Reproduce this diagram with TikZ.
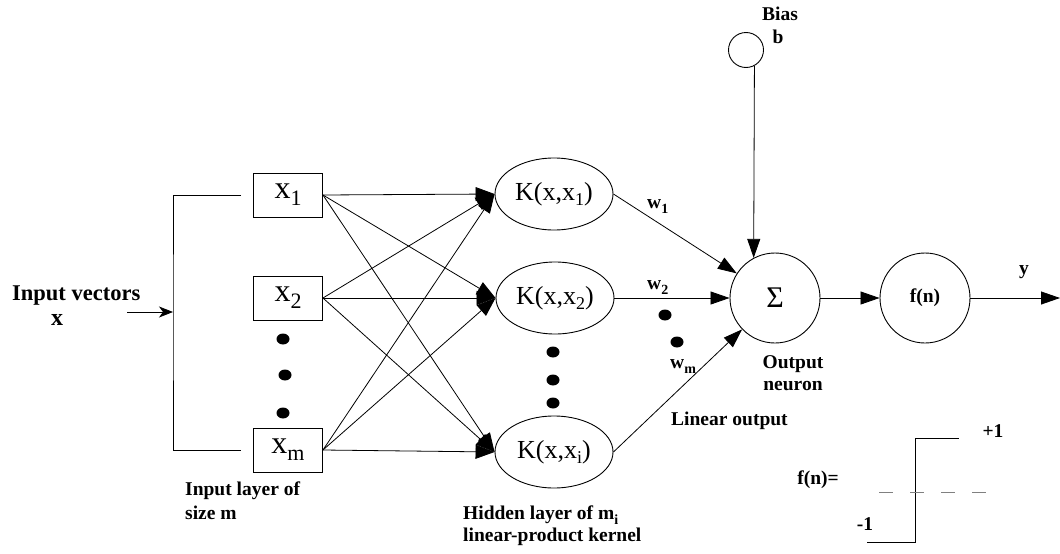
\documentclass[tikz,border=0pt]{standalone}
\usepackage{fontspec}
\setmainfont{Liberation Serif}
\usetikzlibrary{arrows.meta,shapes.geometric}

% lowered indices for the node labels
\newcommand\boxidx[1]{\raisebox{-0.22em}{\fontsize{22}{22}\selectfont #1}}
\newcommand\kidx[1]{\raisebox{-0.22em}{\fontsize{18}{18}\selectfont #1}}
\newcommand\bidx[1]{\raisebox{-0.28em}{\fontsize{14}{14}\selectfont #1}}

\begin{document}
\begin{tikzpicture}[x=1pt,y=-1pt,
  lbl/.style={font=\fontsize{19.5}{22}\selectfont\bfseries, inner sep=0pt},
  inbox/.style={draw, line width=0.9pt, minimum width=69pt, minimum height=44pt,
    inner sep=0pt, font=\fontsize{32}{34}\selectfont},
  kern/.style={draw, ellipse, line width=0.9pt, minimum width=118pt,
    minimum height=72pt, inner sep=0pt, font=\fontsize{26}{28}\selectfont},
  neuron/.style={draw, circle, line width=0.9pt, minimum size=90pt, inner sep=0pt},
  blob/.style={fill, ellipse, minimum width=13pt, minimum height=11pt, inner sep=0pt},
  wire/.style={line width=0.8pt},
  fan/.style={wire, -{Triangle[length=19pt,width=14pt]}},
  feed/.style={wire, -{Triangle[length=19pt,width=13pt]}},
]
\useasboundingbox (0,0) rectangle (1060,554);

% input layer
\node[inbox] (x1) at (288,195) {x\boxidx{1}};
\node[inbox] (x2) at (288,298) {x\boxidx{2}};
\node[inbox] (xm) at (288,450) {x\boxidx{m}};
\node[blob] (ida) at (283,339) {};
\node[blob] (idb) at (285,375) {};
\node[blob] (idc) at (283,413) {};

% hidden layer of kernels
\node[kern] (k1) at (554,194) {K(x,x\kidx{1})};
\node[kern] (k2) at (555,298) {K(x,x\kidx{2})};
\node[kern] (ki) at (554,452) {K(x,x\kidx{i})};
\node[blob] (hda) at (553,352) {};
\node[blob] (hdb) at (553,380) {};
\node[blob] (hdc) at (553,403) {};

% output neuron, bias and activation
\node[neuron, font=\fontsize{30}{30}\selectfont] (sigma) at (775,298) {Σ};
\node[neuron, font=\fontsize{19.5}{22}\selectfont\bfseries] (fn) at (925,298) {f(n)};
\node[draw, circle, line width=0.9pt, minimum size=35pt, inner sep=0pt] (bias) at (746,50) {};
\node[blob] (wda) at (665,315) {};
\node[blob] (wdb) at (677,342) {};

% input bracket
\coordinate (brTop) at (241,195);
\coordinate (brBot) at (241,450);
\coordinate (brSpine) at (173,312);
\coordinate (inTail) at (127,312);
\draw[wire] (brTop) -| (brSpine) |- (brBot);
\draw[wire, -{Stealth[length=14pt,width=11pt,inset=4pt]}] (inTail) -- (brSpine);

% full connection input -> kernels
\foreach \s in {x1,x2,xm}
  \foreach \t in {k1,k2,ki}
    \draw[fan] (\s.east) -- (\t.west);

% kernels -> output neuron -> activation -> y
\draw[feed] (k1.east) -- (sigma);
\draw[feed] (k2.east) -- (sigma);
\draw[feed] (ki.east) -- (sigma);
\draw[feed] (bias.-62) -- (sigma.118);
\draw[feed] (sigma) -- (fn);
\coordinate (yout) at (1060,298);
\draw[feed] (fn) -- (yout);

% hard-limiter sketch
\draw[wire] (867,542) -- (915,542) -- (915,438) -- (959,438);
\draw[wire, gray, dash pattern=on 14pt off 17pt] (879,492) -- (986,492);

% labels
\node[lbl, anchor=base west, font=\fontsize{22.5}{24}\selectfont\bfseries] (tInVec) at (12,300) {Input vectors};
\node[lbl, anchor=base, font=\fontsize{24}{24}\selectfont\bfseries] (tInX) at (57,325) {x};
\node[lbl, anchor=base west] (tInL1) at (185,495) {Input layer of};
\node[lbl, anchor=base west] (tInL2) at (185,519) {size m};
\node[lbl, anchor=base west] (tHid1) at (463,519) {Hidden layer of m\bidx{i}};
\node[lbl, anchor=base west] (tHid2) at (463,541) {linear-product kernel};
\node[lbl, anchor=base] (tOut1) at (793,368) {Output};
\node[lbl, anchor=base] (tOut2) at (793,390) {neuron};
\node[lbl, anchor=base west] (tLin) at (671,425) {Linear output};
\node[lbl, anchor=base] (tBias) at (780,20) {Bias};
\node[lbl, anchor=base] (tB) at (778,43) {b};
\node[lbl, anchor=base west] (tw1) at (647,208) {w\bidx{1}};
\node[lbl, anchor=base west] (tw2) at (647,289) {w\bidx{2}};
\node[lbl, anchor=base west] (twm) at (670,368) {w\bidx{m}};
\node[lbl, anchor=base] (ty) at (1024,274) {y};
\node[lbl, anchor=base] (tp1) at (993,437) {+1};
\node[lbl, anchor=base] (tm1) at (865,530) {-1};
\node[lbl, anchor=base] (tfn) at (818,484) {f(n)=};
\end{tikzpicture}
\end{document}
